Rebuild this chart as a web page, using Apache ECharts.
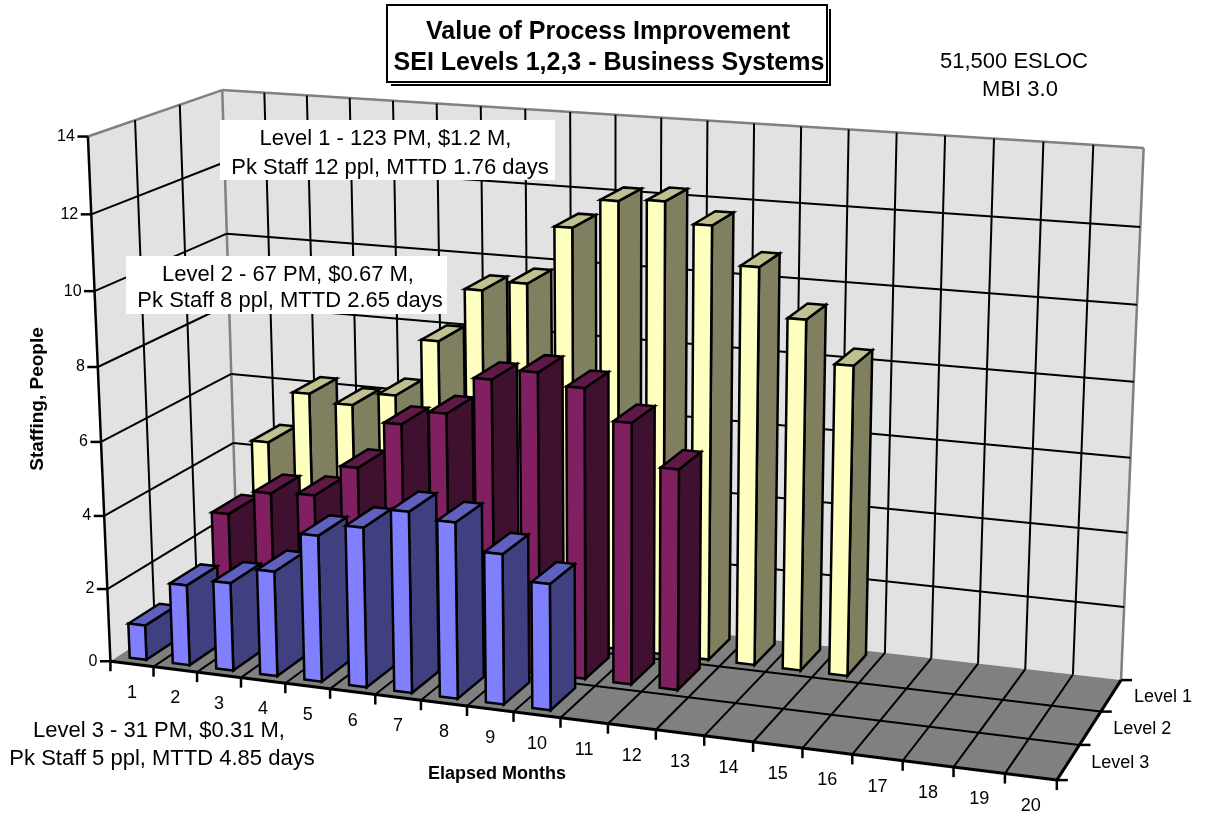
<!DOCTYPE html>
<html><head><meta charset="utf-8">
<style>html,body{margin:0;padding:0;background:#fff}#c{width:1205px;height:816px}</style>
<script src="https://cdn.jsdelivr.net/npm/echarts@6/dist/echarts.min.js"></script>
</head><body><div id="c"></div>
<script>
const months = [1,2,3,4,5,6,7,8,9,10,11,12,13,14,15,16,17,18,19,20];
const levels = ['Level 3','Level 2','Level 1'];
const valueTicks = [0,2,4,6,8,10,12,14];
const level1Staff = [null,4.76,6.24,6.04,6.42,8.02,9.5,9.78,11.36,12.15,12.23,11.69,10.7,9.43,8.33];
const level2Staff = [null,3.43,4.13,4.2,5.08,6.38,6.78,7.8,8.1,7.8,7,5.9];
const level3Staff = [0.95,2.2,2.4,2.85,3.95,4.3,4.85,4.7,4.0,3.35];

const FONT = '"Liberation Sans", Arial, sans-serif';
// camera calibration: box corners (month edge, level edge, staffing) -> picture
const calib = [
 [0,0,0,110,660],[20,0,0,1057,781],[20,3,0,1122,678],[0,3,0,238,580],
 [0,0,14,88,137],[0,3,14,222,90],[20,3,14,1144,147],[0,0,8,98,367],
 [0,3,10,227,233],[20,3,12,1140,228],[20,3,2,1123,608]];
function solveCamera(pts){
  const A=[],b=[];
  pts.forEach(([u,v,h,x,y])=>{
    A.push([u,v,h,1,0,0,0,0,-x*u,-x*v,-x*h]);b.push(x);
    A.push([0,0,0,0,u,v,h,1,-y*u,-y*v,-y*h]);b.push(y);
  });
  const n=11,M=[];
  for(let i=0;i<n;i++){M.push([]);for(let j=0;j<=n;j++){let s=0;
    for(let k=0;k<A.length;k++)s+=A[k][i]*(j<n?A[k][j]:b[k]);M[i].push(s);}}
  for(let i=0;i<n;i++){let p=i;for(let r=i+1;r<n;r++)if(Math.abs(M[r][i])>Math.abs(M[p][i]))p=r;
    [M[i],M[p]]=[M[p],M[i]];
    for(let r=0;r<n;r++){if(r===i)continue;const f=M[r][i]/M[i][i];for(let c=i;c<=n;c++)M[r][c]-=f*M[i][c];}}
  return M.map((r,i)=>r[n]/r[i]);
}
const cam=solveCamera(calib);
function proj(u,v,h){
  const w=cam[8]*u+cam[9]*v+cam[10]*h+1;
  return [(cam[0]*u+cam[1]*v+cam[2]*h+cam[3])/w,(cam[4]*u+cam[5]*v+cam[6]*h+cam[7])/w];
}
// month and staffing go through the (hidden) axes' scales, then the camera
function P(api,u,v,h){
  const o=api.coord([0,0]),e=api.coord([20,14]),c=api.coord([u,h]);
  return proj(20*(c[0]-o[0])/(e[0]-o[0]),v,14*(c[1]-o[1])/(e[1]-o[1]));
}
const line=(a,b,stroke,lw)=>({type:'line',shape:{x1:a[0],y1:a[1],x2:b[0],y2:b[1]},style:{stroke:stroke||'#000',lineWidth:lw||2}});
const poly=(pts,fill,stroke,lw)=>({type:'polygon',shape:{points:pts},style:{fill:fill,stroke:stroke||null,lineWidth:lw||0,lineJoin:'miter'}});
const txt=(s,x,y,align,size)=>({type:'text',style:{text:s,x:x,y:y,align:align||'center',verticalAlign:'middle',font:(size||14)+'px '+FONT,fill:'#000'}});

function frameItem(p,api){
  const a=(u,v,h)=>P(api,u,v,h);
  return {type:'group',children:[
    poly([a(0,0,0),a(0,3,0),a(0,3,14),a(0,0,14)],'#e2e2e2'),
    poly([a(0,3,0),a(20,3,0),a(20,3,14),a(0,3,14)],'#e2e2e2'),
    poly([a(0,0,0),a(20,0,0),a(20,3,0),a(0,3,0)],'#808080'),
    line(a(0,0,14),a(0,3,14),'#808080',2.5),
    line(a(0,3,14),a(20,3,14),'#808080',2.5),
    line(a(0,3,14),a(0,3,0),'#808080',2.5),
    line(a(20,3,14),a(20,3,0),'#808080',2.5)
  ]};
}
function valueItem(p,api){
  const h=api.value(1),f=P(api,0,0,h);
  const kids=[];
  if(h>0&&h<14) kids.push(line(P(api,20,3,h),P(api,0,3,h)),line(P(api,0,3,h),f));
  kids.push(line(f,[f[0]-10.5,f[1]],'#000',2.5));
  kids.push(txt(String(h),f[0]-13,f[1],'right',16));
  return {type:'group',children:kids};
}
function monthItem(p,api){
  const u=api.value(0),kids=[];
  const f=P(api,u,0,0);
  if(u>0&&u<20) kids.push(line(P(api,u,3,14),P(api,u,3,0)),line(P(api,u,3,0),f));
  kids.push(line(f,[f[0],f[1]+10],'#000',2.5));
  if(u>0){const m=P(api,u-0.5,0,0);kids.push(txt(String(months[u-1]),m[0],m[1]+29,'center',18));}
  return {type:'group',children:kids};
}
function levelItem(p,api){
  const v=p.dataIndex,kids=[];
  if(v>0&&v<3) kids.push(line(P(api,0,v,14),P(api,0,v,0)),line(P(api,0,v,0),P(api,20,v,0)));
  const r=P(api,20,v,0);
  kids.push(line(r,[r[0]+11,r[1]],'#000',2.5));
  if(v<3){const m=P(api,20,v+0.5,0);kids.push(txt(levels[v],m[0]+52,m[1]+1,'center',18));}
  return {type:'group',children:kids};
}
function axesItem(p,api){
  return {type:'group',children:[
    line(P(api,0,0,0),P(api,0,0,14),'#000',2.5),
    line(P(api,0,0,0),P(api,20,0,0),'#000',3),
    line(P(api,20,0,0),P(api,20,3,0),'#000',3)
  ]};
}
const U0=0.27,U1=0.66,V0=0.17,V1=0.87;
function barRenderer(vIndex,front,side,top){
  return function(p,api){
    const u=api.value(0)-1,h=api.value(1),a=u+U0,b=u+U1,c=vIndex+V0,d=vIndex+V1;
    return {type:'group',children:[
      poly([P(api,b,c,0),P(api,b,d,0),P(api,b,d,h),P(api,b,c,h)],side,'#000',2.5),
      poly([P(api,a,c,h),P(api,b,c,h),P(api,b,d,h),P(api,a,d,h)],top,'#000',2.5),
      poly([P(api,a,c,0),P(api,b,c,0),P(api,b,c,h),P(api,a,c,h)],front,'#000',2.5)
    ]};
  };
}
const custom=(name,z,data,fn)=>({name,type:'custom',z,silent:true,animation:false,clip:false,progressive:0,
  coordinateSystem:'cartesian2d',encode:{x:0,y:1},data,renderItem:fn});
const pairs=a=>a.map((v,i)=>[months[i],v]).filter(d=>d[1]!==null);

const annText=(s,x,y,bold,size,extra)=>Object.assign({type:'text',z:100,silent:true,style:{text:s,x:x,y:y,align:'center',verticalAlign:'middle',font:(bold?'bold ':'')+size+'px '+FONT,fill:'#000'}},extra||{});
const annRect=(x,y,w,h,fill,stroke,lw,z)=>({type:'rect',z:z||99,silent:true,shape:{x,y,width:w,height:h},style:{fill,stroke:stroke||null,lineWidth:lw||0}});

const chart=echarts.init(document.getElementById('c'),null,{renderer:'canvas'});
chart.setOption({
  animation:false,
  backgroundColor:'#fff',
  grid:{left:100,top:100,width:1000,height:600,containLabel:false},
  xAxis:{type:'value',min:0,max:20,show:false},
  yAxis:{type:'value',min:0,max:14,show:false},
  series:[
    custom('frame',1,[[0,0]],frameItem),
    custom('values',2,valueTicks.map(v=>[0,v]),valueItem),
    custom('monthTicks',3,[0].concat(months).map(m=>[m,0]),monthItem),
    custom('levelTicks',4,[0,1,2,3].map(()=>[0,0]),levelItem),
    custom('axes',5,[[0,0]],axesItem),
    custom('Level 1',6,pairs(level1Staff),barRenderer(2,'#ffffc0','#808060','#c0c090')),
    custom('Level 2',7,pairs(level2Staff),barRenderer(1,'#802060','#401030','#601848')),
    custom('Level 3',8,pairs(level3Staff),barRenderer(0,'#8080ff','#404080','#6060c0'))
  ],
  graphic:{elements:[
    annRect(391,9,440,77,'#000',null,0,98),
    annRect(385,3,444,81,'#fff',null,0,99),
    annRect(387,5,440,77,'#fff','#000',2,100),
    annText('Value of Process Improvement',608,32,true,25,{z:101}),
    annText('SEI Levels 1,2,3 - Business Systems',609,63,true,25,{z:101}),
    annText('51,500 ESLOC',1014,62,false,22),
    annText('MBI 3.0',1020,90,false,22),
    annRect(220,120,335,60,'#fff'),
    annText('Level 1 - 123 PM, $1.2 M,',385.5,139,false,22,{z:101}),
    annText('Pk Staff 12 ppl, MTTD 1.76 days',390,168,false,22,{z:101}),
    annRect(126,256,321,58,'#fff'),
    annText('Level 2 - 67 PM, $0.67 M,',288,275,false,22,{z:101}),
    annText('Pk Staff 8 ppl, MTTD 2.65 days',290,301,false,22,{z:101}),
    annText('Level 3 - 31 PM, $0.31 M,',159,731,false,22,{z:101}),
    annText('Pk Staff 5 ppl, MTTD 4.85 days',162,759,false,22,{z:101}),
    annText('Elapsed Months',497,774,true,18),
    {type:'text',z:100,silent:true,x:38,y:399,rotation:Math.PI/2,style:{text:'Staffing, People',x:0,y:0,align:'center',verticalAlign:'middle',font:'bold 19px '+FONT,fill:'#000'}}
  ]}
});
</script></body></html>
